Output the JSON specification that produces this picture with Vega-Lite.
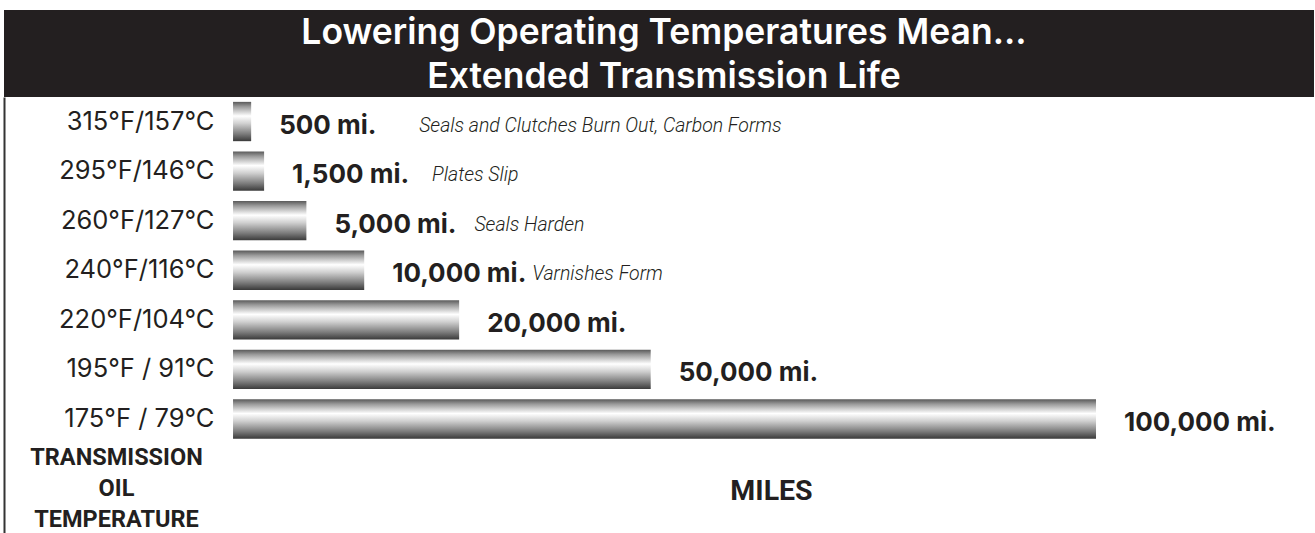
{
  "$schema": "https://vega.github.io/schema/vega-lite/v6.json",
  "background": "white",
  "padding": {"left": 4, "top": 10, "right": 0, "bottom": 0},
  "spacing": 0,
  "config": {"view": {"stroke": null}, "font": "Inter"},
  "vconcat": [
    {
      "width": 1310,
      "height": 87,
      "view": {"fill": "#231f20", "stroke": null},
      "data": {"values": [{"title": "Lowering Operating Temperatures Mean..."}]},
      "mark": {
        "type": "text",
        "text": ["Lowering Operating Temperatures Mean...", "Extended Transmission Life"],
        "align": "center",
        "baseline": "middle",
        "lineHeight": 44,
        "dy": -20.5,
        "dx": 5,
        "font": "Inter",
        "fontSize": 35.5,
        "fontWeight": 600,
        "color": "#ffffff"
      },
      "encoding": {}
    },
    {
      "width": 1310,
      "height": 436,
      "data": {
        "values": [
          {"temp": "315°F/157°C", "miles": 500, "bar": 2.1, "label": "500 mi.", "note": "Seals and Clutches Burn Out, Carbon Forms"},
          {"temp": "295°F/146°C", "miles": 1500, "bar": 3.6, "label": "1,500 mi.", "note": "Plates Slip"},
          {"temp": "260°F/127°C", "miles": 5000, "bar": 8.5, "label": "5,000 mi.", "note": "Seals Harden"},
          {"temp": "240°F/116°C", "miles": 10000, "bar": 15.2, "label": "10,000 mi.", "note": "Varnishes Form"},
          {"temp": "220°F/104°C", "miles": 20000, "bar": 26.2, "label": "20,000 mi.", "note": ""},
          {"temp": "195°F / 91°C", "miles": 50000, "bar": 48.4, "label": "50,000 mi.", "note": ""},
          {"temp": "175°F / 79°C", "miles": 100000, "bar": 100, "label": "100,000 mi.", "note": ""}
        ]
      },
      "encoding": {
        "y": {
          "field": "temp",
          "type": "nominal",
          "sort": null,
          "scale": {"paddingInner": 0.207, "paddingOuter": 1.037, "align": 0.049},
          "axis": {
            "orient": "left",
            "offset": 0,
            "domain": true,
            "domainColor": "#333333",
            "domainWidth": 2,
            "ticks": false,
            "tickSize": 0,
            "labelPadding": -210,
            "labelAlign": "right",
            "labelBaseline": "middle",
            "labelFont": "Inter",
            "labelFontSize": 25.5,
            "labelColor": "#231f20",
            "title": ["TRANSMISSION", "OIL", "TEMPERATURE"],
            "titleAngle": 0,
            "titleAlign": "center",
            "titleBaseline": "top",
            "titleX": 112,
            "titleY": 348,
            "titleLineHeight": 31,
            "titleFont": "Roboto",
            "titleFontSize": 23.5,
            "titleFontWeight": "bold",
            "titleColor": "#231f20"
          }
        },
        "x": {
          "field": "bar",
          "type": "quantitative",
          "scale": {"domain": [-26.54, 125.26], "nice": false, "zero": false},
          "axis": {
            "orient": "bottom",
            "labels": false,
            "ticks": false,
            "domain": false,
            "grid": false,
            "title": "MILES",
            "titleX": 767,
            "titleY": -43,
            "titleAlign": "center",
            "titleBaseline": "middle",
            "titleFont": "Roboto",
            "titleFontSize": 28.5,
            "titleFontWeight": "bold",
            "titleColor": "#231f20"
          }
        }
      },
      "layer": [
        {
          "mark": {
            "type": "bar",
            "color": {
              "gradient": "linear",
              "x1": 0, "y1": 0, "x2": 0, "y2": 1,
              "stops": [
                {"offset": 0, "color": "#5a5a5a"},
                {"offset": 0.12, "color": "#9a9a9a"},
                {"offset": 0.36, "color": "#ffffff"},
                {"offset": 0.55, "color": "#d0d0d0"},
                {"offset": 0.82, "color": "#7a7a7a"},
                {"offset": 1, "color": "#3a3a3a"}
              ]
            }
          }
        },
        {
          "mark": {
            "type": "text",
            "align": "left",
            "baseline": "middle",
            "dx": 28,
            "dy": 4,
            "font": "Inter",
            "fontSize": 26,
            "fontWeight": 700,
            "color": "#231f20"
          },
          "encoding": {"text": {"field": "label"}}
        },
        {
          "mark": {
            "type": "text",
            "align": "left",
            "baseline": "middle",
            "dx": 168,
            "dy": 4,
            "font": "Roboto",
            "fontStyle": "italic",
            "fontWeight": 300,
            "fontSize": 19.5,
            "color": "#231f20"
          },
          "encoding": {"text": {"field": "note"}}
        }
      ]
    }
  ]
}
